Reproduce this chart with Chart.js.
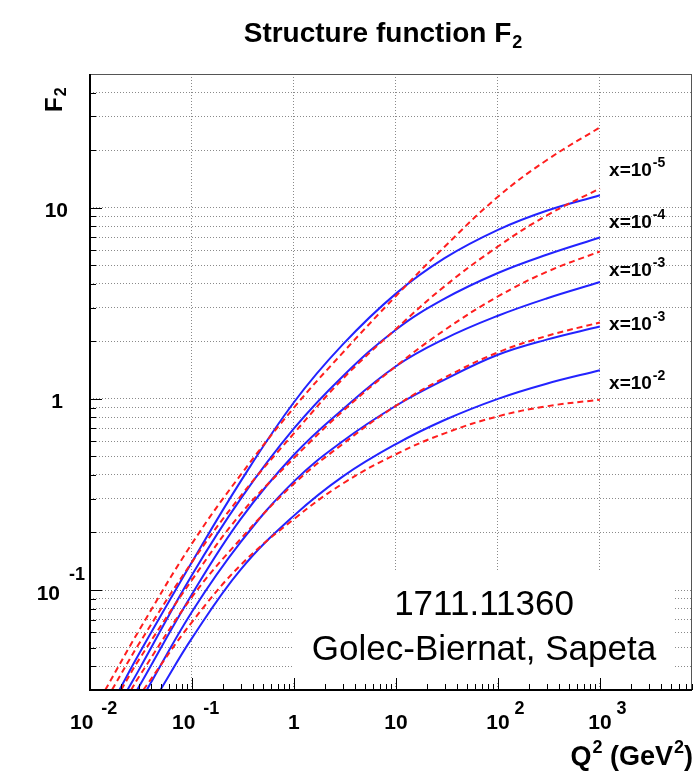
<!DOCTYPE html>
<html>
<head>
<meta charset="utf-8">
<script src="https://cdn.jsdelivr.net/npm/chart.js@4"></script>
<style>
  html, body { margin: 0; padding: 0; background: #fff; }
  #wrap { width: 698px; height: 771px; }
</style>
</head>
<body>
<div id="wrap"><canvas id="f2chart" width="698" height="771"></canvas></div>
<script>
// ---- data ----
// Q^2 (GeV^2) at which every curve was read
var q2Grid = [0.03, 0.1, 0.3, 1, 3, 10, 30, 100, 300, 1000];

// Q^2 where each curve enters through the bottom of the frame (F2 = 0.03)
var blueEntryQ2 = [0.0194, 0.0233, 0.029, 0.036, 0.049];
var redEntryQ2  = [0.0141, 0.0164, 0.0202, 0.0253, 0.0333];

// solid blue curves, top to bottom (null = below the frame)
var blueX1e5 = [0.046, 0.14, 0.37, 0.96, 1.92, 3.55, 5.44, 7.65, 9.63, 11.6];
var blueX1e4 = [0.038, 0.12, 0.30, 0.70, 1.31, 2.30, 3.34, 4.55, 5.67, 6.98];
var blueX1e3 = [0.031, 0.095, 0.235, 0.51, 0.88, 1.48, 2.06, 2.72, 3.35, 4.08];
var blueX3e3 = [null, 0.077, 0.178, 0.37, 0.60, 0.92, 1.26, 1.70, 2.04, 2.39];
var blueX1e2 = [null, 0.056, 0.128, 0.245, 0.392, 0.58, 0.775, 1.00, 1.20, 1.41];

// dashed red curves, top to bottom
var redX1e5 = [0.061, 0.175, 0.40, 0.90, 1.74, 3.45, 6.25, 11.4, 17.7, 26.3];
var redX1e4 = [0.052, 0.14, 0.31, 0.66, 1.27, 2.32, 3.88, 6.26, 9.09, 12.6];
var redX1e3 = [0.043, 0.113, 0.25, 0.49, 0.86, 1.48, 2.29, 3.43, 4.61, 5.9];
var redX3e3 = [0.035, 0.092, 0.185, 0.36, 0.58, 0.92, 1.29, 1.75, 2.13, 2.51];
var redX1e2 = [null, 0.068, 0.135, 0.235, 0.36, 0.513, 0.66, 0.81, 0.914, 0.99];

// curve labels on the right (exponent of x, as printed) and their anchor (Q^2, F2)
var curveLabelExp = ['-5', '-4', '-3', '-3', '-2'];
var curveLabelQ2F = [[1230, 14.6], [1230, 7.84], [1230, 4.40], [1230, 2.30], [1230, 1.12]];

// axes
var xMin = 0.01, xMax = 8000;
var yMin = 0.03, yMax = 50;
var xDecades = [0.01, 0.1, 1, 10, 100, 1000];
var xDecadeExp = ['-2', '-1', '', '', '2', '3'];
var xDecadeBase = ['10', '10', '1', '10', '10', '10'];

function logSteps(lo, hi) {
  var out = [];
  for (var e = -3; e <= 4; e++) {
    for (var k = 1; k <= 9; k++) {
      var v = +(k * Math.pow(10, e)).toPrecision(3);
      if (v >= lo - 1e-12 && v <= hi + 1e-9) out.push(v);
    }
  }
  return out;
}
var yGridValues = logSteps(yMin, yMax);
var xMinorValues = logSteps(xMin, xMax);

function buildPoints(entryQ2, values) {
  var pts = [{ x: entryQ2, y: yMin }];
  for (var i = 0; i < q2Grid.length; i++) {
    if (values[i] == null || q2Grid[i] <= entryQ2) continue;
    pts.push({ x: q2Grid[i], y: values[i] });
  }
  return pts;
}

var BLUE = 'rgb(35,35,255)';
var RED = 'rgb(255,30,30)';
var FONT = '"Liberation Sans", Arial, Helvetica, sans-serif';

var blueSets = [blueX1e5, blueX1e4, blueX1e3, blueX3e3, blueX1e2];
var redSets = [redX1e5, redX1e4, redX1e3, redX3e3, redX1e2];
var datasets = [];
redSets.forEach(function (vals, i) {
  datasets.push({
    data: buildPoints(redEntryQ2[i], vals),
    borderColor: RED, borderWidth: 2, borderDash: [6, 4],
    pointRadius: 0, fill: false, tension: 0.4
  });
});
blueSets.forEach(function (vals, i) {
  datasets.push({
    data: buildPoints(blueEntryQ2[i], vals),
    borderColor: BLUE, borderWidth: 2,
    pointRadius: 0, fill: false, tension: 0.4
  });
});

// text with a raised or lowered small part, returns end x
function drawScript(ctx, x, y, base, small, bigPx, smallPx, shift, gap) {
  ctx.font = 'bold ' + bigPx + 'px ' + FONT;
  ctx.fillText(base, x, y);
  var w = ctx.measureText(base).width;
  if (!small) return x + w;
  ctx.font = 'bold ' + smallPx + 'px ' + FONT;
  ctx.fillText(small, x + w + gap, y + shift);
  return x + w + gap + ctx.measureText(small).width;
}

var decorPlugin = {
  id: 'rootDecor',
  afterDatasetsDraw: function (chart) {
    var ctx = chart.ctx, a = chart.chartArea;
    var sx = chart.scales.x, sy = chart.scales.y;
    ctx.save();

    // white text box over the grid
    var bx = sx.getPixelForValue(1) - 1;
    ctx.fillStyle = '#fff';
    ctx.fillRect(bx, 572, 673 - bx, 110);
    ctx.fillStyle = '#000';
    ctx.font = '35px ' + FONT;
    ctx.textAlign = 'center';
    ctx.textBaseline = 'alphabetic';
    ctx.fillText('1711.11360', 484, 615);
    ctx.fillText('Golec-Biernat, Sapeta', 484, 660);
    ctx.textAlign = 'left';

    // ticks (inside the frame)
    ctx.strokeStyle = '#000';
    ctx.lineWidth = 1;
    ctx.beginPath();
    xMinorValues.forEach(function (v) {
      var px = Math.round(sx.getPixelForValue(v)) + 0.5;
      var major = xDecades.indexOf(v) >= 0;
      ctx.moveTo(px, a.bottom);
      ctx.lineTo(px, a.bottom - (major ? 12 : 6));
    });
    yGridValues.forEach(function (v) {
      var py = Math.round(sy.getPixelForValue(v)) + 0.5;
      var major = [0.1, 1, 10].indexOf(v) >= 0;
      ctx.moveTo(a.left, py);
      ctx.lineTo(a.left + (major ? 12 : 6), py);
    });
    ctx.stroke();

    // frame
    ctx.lineWidth = 1;
    ctx.strokeStyle = '#555';
    ctx.strokeRect(a.left + 0.5, a.top + 0.5, a.right - a.left - 1, a.bottom - a.top - 1);
    ctx.strokeStyle = '#000';
    ctx.lineWidth = 2;
    ctx.beginPath();
    ctx.moveTo(a.left, a.top);
    ctx.lineTo(a.left, a.bottom);
    ctx.lineTo(a.right, a.bottom);
    ctx.stroke();

    ctx.fillStyle = '#000';
    // x tick labels
    xDecades.forEach(function (v, i) {
      var px = sx.getPixelForValue(v);
      var base = xDecadeBase[i], ex = xDecadeExp[i];
      ctx.font = 'bold 21px ' + FONT;
      var wb = ctx.measureText(base).width;
      var left = ex.charAt(0) === '-' ? px - 20 : px - wb / 2;
      drawScript(ctx, left, 729, base, ex, 21, 18, -15, ex.charAt(0) === '-' ? 8 : 5);
    });

    // y tick labels
    ctx.font = 'bold 21px ' + FONT;
    var p10 = sy.getPixelForValue(10), p1 = sy.getPixelForValue(1), p01 = sy.getPixelForValue(0.1);
    ctx.fillText('10', 68 - ctx.measureText('10').width, p10 + 9);
    ctx.fillText('1', 63 - ctx.measureText('1').width, p1 + 9);
    drawScript(ctx, 60 - ctx.measureText('10').width, p01 + 10, '10', '-1', 21, 18, -20, 9);

    // curve labels
    curveLabelExp.forEach(function (ex, i) {
      var px = sx.getPixelForValue(curveLabelQ2F[i][0]);
      var py = sy.getPixelForValue(curveLabelQ2F[i][1]);
      drawScript(ctx, px, py, 'x=10', ex, 19, 14, -9, 1);
    });

    // title
    ctx.font = 'bold 28px ' + FONT;
    var tw = ctx.measureText('Structure function F').width;
    drawScript(ctx, 384 - (tw + 13) / 2, 42, 'Structure function F', '2', 28, 18, 6, 1);

    // x axis title, right aligned
    ctx.font = 'bold 27px ' + FONT;
    var wQ = ctx.measureText('Q').width, wG = ctx.measureText(' (GeV').width, wP = ctx.measureText(')').width;
    ctx.font = 'bold 18px ' + FONT;
    var w2 = ctx.measureText('2').width;
    var xs = 693 - (wQ + w2 + 1 + wG + w2 + 1 + wP);
    var xe = drawScript(ctx, xs, 765, 'Q', '2', 27, 18, -12, 1);
    xe = drawScript(ctx, xe, 765, ' (GeV', '2', 27, 18, -12, 1);
    ctx.font = 'bold 27px ' + FONT;
    ctx.fillText(')', xe, 765);

    // y axis title, rotated
    ctx.translate(62, 112);
    ctx.rotate(-Math.PI / 2);
    drawScript(ctx, 0, 0, 'F', '2', 24, 16, 4, 1);

    ctx.restore();
  }
};

new Chart(document.getElementById('f2chart'), {
  type: 'line',
  data: { datasets: datasets },
  options: {
    responsive: false,
    animation: false,
    layout: { padding: { left: 90, right: 6, top: 74, bottom: 81 } },
    plugins: { legend: { display: false }, tooltip: { enabled: false }, title: { display: false } },
    scales: {
      x: {
        type: 'logarithmic', min: xMin, max: xMax,
        afterBuildTicks: function (s) { s.ticks = xDecades.map(function (v) { return { value: v }; }); },
        ticks: { display: false },
        grid: { color: '#8a8a8a', lineWidth: 1, drawTicks: false },
        border: { display: false, dash: [1, 2] }
      },
      y: {
        type: 'logarithmic', min: yMin, max: yMax,
        afterBuildTicks: function (s) { s.ticks = yGridValues.map(function (v) { return { value: v }; }); },
        ticks: { display: false },
        grid: { color: '#8a8a8a', lineWidth: 1, drawTicks: false },
        border: { display: false, dash: [1, 2] }
      }
    }
  },
  plugins: [decorPlugin]
});
</script>
</body>
</html>
